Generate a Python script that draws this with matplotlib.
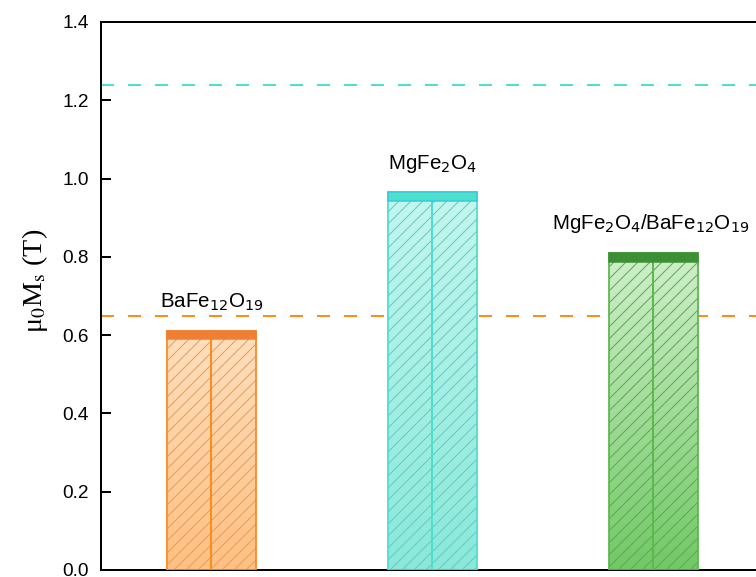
import numpy as np
import matplotlib
matplotlib.use("Agg")
import matplotlib.pyplot as plt
from matplotlib.colors import to_rgb

plt.rcParams['font.family'] = ['Liberation Sans', 'DejaVu Sans']
plt.rcParams['hatch.linewidth'] = 1.0

# data
labels = [r'BaFe$_{12}$O$_{19}$', r'MgFe$_{2}$O$_{4}$',
          r'MgFe$_{2}$O$_{4}$/BaFe$_{12}$O$_{19}$']
values = [0.611, 0.965, 0.81]
cap = 0.022
ref_lines = [1.24, 0.65]

# colours (bottom of gradient, top of gradient, edge, cap face, cap edge, hatch)
grad_bottom = ['#FFC083', '#8AE8DA', '#72C866']
grad_top = ['#FFE0C0', '#C4F6EF', '#D0F0CB']
edge_cols = ['#FF8A1C', '#4FDDD0', '#5DB84F']
cap_face = ['#EE8036', '#4DE0CC', '#3D8F35']
cap_edge = ['#EE8036', '#33CCDD', '#3D8F35']
hatch_cols = ['#F29A4A', '#5CCFC2', '#5BAA50']
line_cols = ['#4EE0CC', '#FF8C1A']

fig = plt.figure(figsize=(756 / 72, 577 / 72), dpi=72)
ax = fig.add_axes([101 / 756, 7 / 577, 655 / 756, 548 / 577])

x = np.arange(len(values))
w = 0.4

for i, v in enumerate(values):
    # gradient fill
    c0 = np.array(to_rgb(grad_bottom[i]))
    c1 = np.array(to_rgb(grad_top[i]))
    t = np.linspace(0, 1, 256)[:, None]
    img = (c0 * (1 - t) + c1 * t)[:, None, :]
    ax.imshow(img, extent=[x[i] - w / 2, x[i] + w / 2, 0, v], origin='lower',
              aspect='auto', zorder=1, interpolation='bilinear')
    # hatch
    ax.bar(x[i], v, w, fill=False, edgecolor=hatch_cols[i], lw=0, hatch='//', zorder=2)
    # two halves with outline
    ax.bar([x[i] - w / 4, x[i] + w / 4], [v, v], w / 2, fill=False,
           edgecolor=edge_cols[i], lw=1.8, zorder=3)
    # cap strip
    ax.bar(x[i], cap, w, bottom=v - cap, color=cap_face[i],
           edgecolor=cap_edge[i], lw=1.5, zorder=4)
    ax.annotate(labels[i], (x[i], v + 0.06), xytext=(-3 * (i == 2), 0),
                textcoords='offset points', ha='center', va='baseline', fontsize=20.5)

for y, c in zip(ref_lines, line_cols):
    ax.axhline(y, color=c, lw=2, dashes=(6.5, 7), zorder=0.5)

ax.set_xlim(-0.5, 2.464)
ax.set_ylim(0, 1.4)
ax.set_yticks(np.arange(0, 1.41, 0.2))
ax.set_yticklabels([f'{t:.1f}' for t in np.arange(0, 1.41, 0.2)])
ax.set_xticks([])
ax.tick_params(axis='y', direction='in', length=10, width=2, labelsize=19, pad=12)
for s in ['left', 'top', 'bottom']:
    ax.spines[s].set_linewidth(2)
ax.spines['right'].set_visible(False)

ax.set_ylabel('μ$_0$M$_\\mathrm{s}$ (T)', fontsize=28, family='Liberation Serif',
              math_fontfamily='stix')
ax.yaxis.set_label_coords(-0.078, 0.527)

fig.savefig('out.png', dpi=72)
